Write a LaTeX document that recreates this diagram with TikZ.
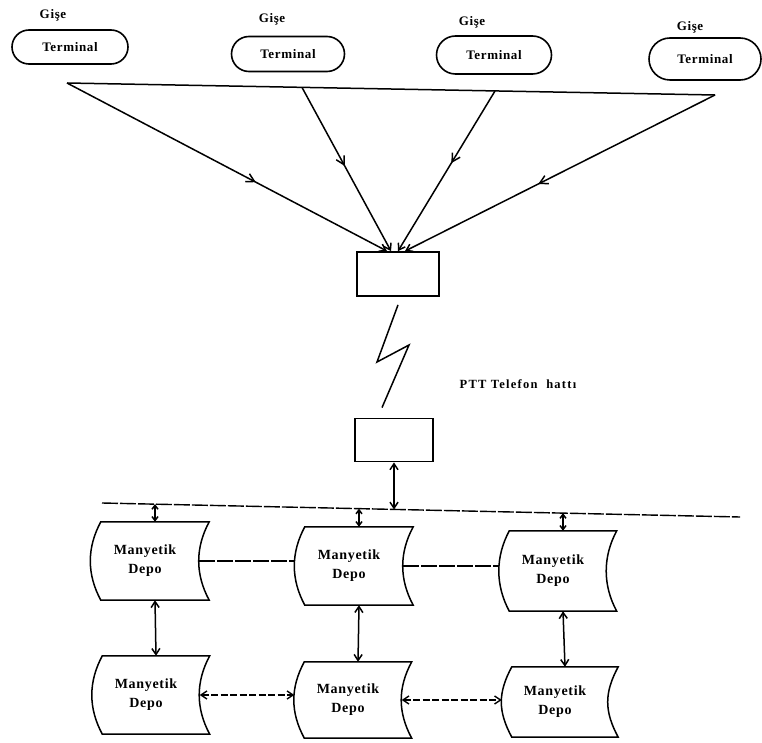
\documentclass[tikz,border=0pt]{standalone}
\usepackage{fontspec}
\setmainfont{Liberation Serif}
\newfontfamily\dfont[LetterSpace=5]{Liberation Serif}
\newfontfamily\pfont[LetterSpace=10]{Liberation Serif}
\usetikzlibrary{arrows.meta,decorations.markings,shapes.misc}
\begin{document}
\begin{tikzpicture}[x=1pt,y=-1pt,
 >={Straight Barb[length=6pt,width=8pt]},
 every node/.style={inner sep=0pt},
 lw/.style={line width=1.5pt},
 term/.style={rounded rectangle, draw, line width=1.6pt, minimum height=#1, font=\dfont\bfseries\fontsize{13}{15}\selectfont},
 gise/.style={font=\dfont\bfseries\fontsize{13}{15}\selectfont},
 rbox/.style={draw, line width=1.8pt},
 depo/.style={minimum width=108pt, minimum height=78pt},
 dtext/.style={align=center, font=\dfont\bfseries\fontsize{14}{19}\selectfont},
 dframe/.style={line width=1.5pt},
 hlink/.style={line width=1.4pt, dash pattern=on 16pt off 2pt},
 blink/.style={line width=1.4pt, dash pattern=on 7pt off 2.5pt},
 sarrow/.style={lw,<->,>={Straight Barb[length=4pt,width=6pt]}},
 midarrow/.style={postaction={decorate,decoration={markings,mark=at position #1 with {\arrow{Straight Barb[length=8pt,width=9pt]}}}}}
]
\useasboundingbox (0,0) rectangle (762,743);

% terminals
\node[gise] (g1) at (53,15) {Gişe};
\node[gise] (g2) at (272,19) {Gişe};
\node[gise] (g3) at (472,22) {Gişe};
\node[gise] (g4) at (690,27) {Gişe};
\node[term=34pt, minimum width=116pt] (t1) at (70,47) {Terminal};
\node[term=35pt, minimum width=113pt] (t2) at (288,54) {Terminal};
\node[term=38pt, minimum width=115pt] (t3) at (494,55) {Terminal};
\node[term=42pt, minimum width=112pt] (t4) at (705,59) {Terminal};

% boxes
\node[rbox, minimum width=82pt, minimum height=44pt] (box1) at (398,274) {};
\node[rbox, minimum width=78pt, minimum height=43pt] (box2) at (394,440) {};
\node[font=\pfont\bfseries\fontsize{12.5}{14}\selectfont] (ptt) at (518,384) {PTT\ Telefon\ \ hattı};

% top line and arrows
\coordinate (hl) at (67,83);
\coordinate (hr) at (715,95);
\coordinate (h2) at (302,87.4);
\coordinate (h3) at (495,91);
\draw[lw] (hl) -- (hr);
\draw[lw,->,midarrow=0.59] (hl) -- ([xshift=-11pt]box1.north);
\draw[lw,->,midarrow=0.48] (h2) -- ([xshift=-7pt]box1.north);
\draw[lw,->,midarrow=0.45] (h3) -- (box1.north);
\draw[lw,->,midarrow=0.57] (hr) -- ([xshift=7pt]box1.north);

% lightning
\draw[lw, line join=miter] ([yshift=-8pt]box1.south) -- (377,362) -- (409,345) -- ([xshift=-12pt,yshift=10pt]box2.north);

% bus
\coordinate (busL) at (102,503);
\coordinate (busR) at (740,517);
\draw[hlink] (busL) -- (busR);
\coordinate (bB) at (394,509.5);
\coordinate (b1) at (155,504);
\coordinate (b2) at (359,508.6);
\coordinate (b3) at (563,513.1);
\draw[lw,<->] (box2.south) -- (bB);

% storage
\node[depo] (A1) at (155,561) {};
\node[depo] (A2) at (359,566) {};
\node[depo, minimum height=80pt, minimum width=107pt] (A3) at (563,571) {};
\node[depo, minimum width=107pt] (B1) at (156,695) {};
\node[depo, minimum width=107pt, minimum height=76pt] (B2) at (358,700) {};
\node[depo, minimum width=106pt, minimum height=70pt] (B3) at (565,702) {};
\foreach \n in {A1,A2,A3,B1,B2,B3}{
  \draw[dframe] (\n.north west) -- (\n.north east)
     .. controls +(-14,26) and +(-14,-26) .. (\n.south east)
     -- (\n.south west)
     .. controls +(-14,-26) and +(-14,26) .. (\n.north west) -- cycle;
  \node[dtext] at ([xshift=-10pt]\n.center) {Manyetik\\Depo};
}

% connectors
\draw[sarrow] (b1) -- (A1.north);
\draw[sarrow] (b2) -- (A2.north);
\draw[sarrow] (b3) -- (A3.north);
\draw[hlink] ([xshift=-10pt]A1.east) -- ([xshift=-10pt]A2.west |- A1.east);
\draw[hlink] ([xshift=-10pt]A2.east) -- ([xshift=-10pt]A3.west |- A2.east);
\draw[lw,<->] (A1.south) -- (B1.north);
\draw[lw,<->] (A2.south) -- (B2.north);
\draw[lw,<->] (A3.south) -- (B3.north);
\draw[blink,<->] ([xshift=-10pt]B1.east) -- ([xshift=-10pt]B2.west |- B1.east);
\draw[blink,<->] ([xshift=-10pt]B2.east) -- ([xshift=-10pt]B3.west |- B2.east);
\end{tikzpicture}
\end{document}
